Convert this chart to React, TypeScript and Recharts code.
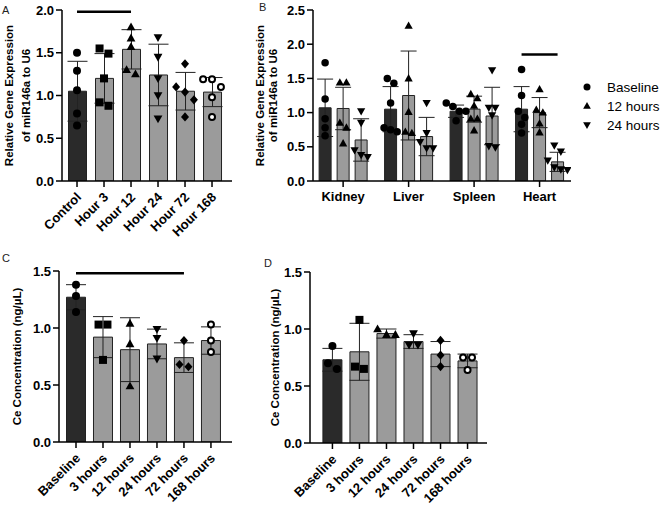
import { ComposedChart, Bar, Scatter, XAxis, YAxis, ErrorBar, ReferenceLine, Cell } from 'recharts';

const FONT = '"Liberation Sans", Arial, sans-serif';
const DARK = '#2a2a2a';
const GRAY = '#9b9b9b';

type Kind = 'circle' | 'square' | 'triangle' | 'triangleDown' | 'diamond' | 'ring';

// Panel A - miR146a over time
const labelsA = ['Control', 'Hour 3', 'Hour 12', 'Hour 24', 'Hour 72', 'Hour 168'];
const meanA = [1.05, 1.2, 1.54, 1.24, 1.05, 1.04];
const sdA = [0.35, 0.29, 0.23, 0.36, 0.22, 0.17];
const pointsA = [
  [1.5, 1.29, 1.06, 0.79, 0.65],
  [1.55, 1.49, 1.2, 0.92, 0.88],
  [1.8, 1.67, 1.57, 1.3, 1.25],
  [1.68, 1.45, 1.2, 1.0, 0.73],
  [1.37, 1.1, 1.04, 0.95, 0.75],
  [1.19, 1.19, 1.1, 0.98, 0.75],
];
const marksA: Kind[] = ['circle', 'square', 'triangle', 'triangleDown', 'diamond', 'ring'];

// Panel B - miR146a by organ
const organsB = ['Kidney', 'Liver', 'Spleen', 'Heart'];
const seriesB = ['Baseline', '12 hours', '24 hours'];
const marksB: Kind[] = ['circle', 'triangle', 'triangleDown'];
const meanB = [
  [1.07, 1.06, 0.6],
  [1.05, 1.25, 0.65],
  [1.02, 1.05, 0.95],
  [1.05, 1.0, 0.28],
];
const sdB = [
  [0.42, 0.31, 0.31],
  [0.33, 0.65, 0.28],
  [0.09, 0.19, 0.42],
  [0.33, 0.22, 0.14],
];
const pointsB = [
  [[1.73, 1.2, 0.91, 0.78, 0.66], [1.44, 1.44, 0.85, 0.78, 0.55], [1.02, 0.85, 0.45, 0.38, 0.35]],
  [[1.5, 1.43, 1.14, 0.78, 0.75, 0.72], [2.27, 1.5, 1.01, 0.72, 0.7], [1.14, 0.7, 0.57, 0.48, 0.48]],
  [[1.14, 1.09, 1.02, 1.02, 0.88], [1.27, 1.21, 1.1, 0.91, 0.91, 0.74], [1.62, 1.07, 1.07, 0.96, 0.51, 0.49]],
  [[1.63, 1.25, 1.02, 0.93, 0.83, 0.7], [1.34, 1.04, 1.0, 0.84, 0.71], [0.52, 0.43, 0.3, 0.2, 0.17, 0.16]],
];

// Panels C and D - Ce concentration
const labelsCD = ['Baseline', '3 hours', '12 hours', '24 hours', '72 hours', '168 hours'];
const meanC = [1.27, 0.92, 0.81, 0.86, 0.74, 0.89];
const sdC = [0.11, 0.18, 0.28, 0.13, 0.13, 0.12];
const pointsC = [
  [1.38, 1.28, 1.14],
  [1.03, 1.03, 0.72],
  [1.04, 0.86, 0.49],
  [0.99, 0.91, 0.73],
  [0.89, 0.68, 0.66],
  [1.03, 0.89, 0.79],
];
const meanD = [0.73, 0.8, 0.96, 0.89, 0.78, 0.72];
const sdD = [0.1, 0.25, 0.04, 0.06, 0.11, 0.06];
const pointsD = [
  [0.85, 0.7, 0.65],
  [1.08, 0.67, 0.65],
  [1.0, 0.95, 0.95],
  [0.96, 0.86, 0.86],
  [0.9, 0.77, 0.67],
  [0.75, 0.75, 0.64],
];

// spread overlapping points sideways, like a scatter dot plot
function spread(vals: number[], tol: number, step: number) {
  const order = vals.map((_, i) => i).sort((a, b) => vals[b] - vals[a]);
  const out = vals.map(() => 0);
  let group: number[] = [];
  const flush = () => {
    group.forEach((g, j) => (out[g] = (j - (group.length - 1) / 2) * step));
    group = [];
  };
  order.forEach((i) => {
    if (group.length && vals[group[group.length - 1]] - vals[i] >= tol) flush();
    group.push(i);
  });
  flush();
  return out;
}

const rowsA = labelsA.map((_, i) => ({ x: i, mean: meanA[i], sd: sdA[i], fill: i === 0 ? DARK : GRAY }));
const dotsA = pointsA.flatMap((vals, i) =>
  spread(vals, 0.094, 0.33).map((o, j) => ({ x: i + o, mean: vals[j], kind: marksA[i] }))
);

const rowsB = organsB.flatMap((_, g) =>
  seriesB.map((_, s) => ({ x: g + (s - 1) * 0.275, mean: meanB[g][s], sd: sdB[g][s], fill: s === 0 ? DARK : GRAY }))
);
const dotsB = pointsB.flatMap((grp, g) =>
  grp.flatMap((vals, s) =>
    spread(vals, 0.1, 0.1).map((o, j) => ({ x: g + (s - 1) * 0.275 + o, mean: vals[j], kind: marksB[s] }))
  )
);

const rowsC = labelsCD.map((_, i) => ({ x: i, mean: meanC[i], sd: sdC[i], fill: i === 0 ? DARK : GRAY }));
const dotsC = pointsC.flatMap((vals, i) =>
  spread(vals, 0.07, 0.33).map((o, j) => ({ x: i + o, mean: vals[j], kind: marksA[i] }))
);
const rowsD = labelsCD.map((_, i) => ({ x: i, mean: meanD[i], sd: sdD[i], fill: i === 0 ? DARK : GRAY }));
const dotsD = pointsD.flatMap((vals, i) =>
  spread(vals, 0.07, 0.33).map((o, j) => ({ x: i + o, mean: vals[j], kind: marksA[i] }))
);

function Marker({ cx, cy, kind, s }: { cx: number; cy: number; kind: Kind; s: number }) {
  const r = s / 2;
  switch (kind) {
    case 'square':
      return <rect x={cx - r} y={cy - r} width={s} height={s} fill="#000" />;
    case 'triangle':
      return <polygon points={`${cx},${cy - r * 1.15} ${cx + r * 1.1},${cy + r * 0.8} ${cx - r * 1.1},${cy + r * 0.8}`} fill="#000" />;
    case 'triangleDown':
      return <polygon points={`${cx},${cy + r * 1.15} ${cx + r * 1.1},${cy - r * 0.8} ${cx - r * 1.1},${cy - r * 0.8}`} fill="#000" />;
    case 'diamond':
      return <polygon points={`${cx},${cy - r * 1.15} ${cx + r},${cy} ${cx},${cy + r * 1.15} ${cx - r},${cy}`} fill="#000" />;
    case 'ring':
      return <circle cx={cx} cy={cy} r={r - 1} fill="#fff" stroke="#000" strokeWidth={2} />;
    default:
      return <circle cx={cx} cy={cy} r={r} fill="#000" />;
  }
}

function XTick(props: any) {
  const { x, y, payload, labels, rotate } = props;
  const text = labels[Math.round(payload.value)];
  const style = { fontFamily: FONT, fontSize: 13, fontWeight: 700, fill: '#000' };
  if (!rotate) {
    return (
      <text x={x} y={y + 12} textAnchor="middle" style={style}>
        {text}
      </text>
    );
  }
  const px = x + 5;
  const py = y + 9;
  return (
    <text x={px} y={py} textAnchor="end" transform={`rotate(-45 ${px} ${py})`} style={style}>
      {text}
    </text>
  );
}

function YTitle({ lines, cx, cy, gap }: { lines: string[]; cx: number; cy: number; gap: number }) {
  return (
    <g>
      {lines.map((t, i) => {
        const x = cx + i * gap;
        return (
          <text
            key={t}
            x={x}
            y={cy}
            transform={`rotate(-90 ${x} ${cy})`}
            textAnchor="middle"
            dominantBaseline="central"
            style={{ fontFamily: FONT, fontSize: 11.5, fontWeight: 700, fill: '#000' }}
          >
            {t}
          </text>
        );
      })}
    </g>
  );
}

interface PanelProps {
  left: number;
  top: number;
  width: number;
  height: number;
  margin: { top: number; right: number; bottom: number; left: number };
  yWidth: number;
  xHeight: number;
  xDomain: [number, number];
  yDomain: [number, number];
  yTicks: number[];
  xTicks: number[];
  tickText: string[];
  rotate: boolean;
  rows: { x: number; mean: number; sd: number; fill: string }[];
  dots: { x: number; mean: number; kind: Kind }[];
  barSize: number;
  dotSize: number;
  capWidth: number;
  sig?: { x1: number; x2: number; y: number };
  title: string[];
  titleX: number;
  titleGap: number;
}

function Panel(p: PanelProps) {
  const cy = p.margin.top + (p.height - p.margin.top - p.margin.bottom - p.xHeight) / 2;
  return (
    <div style={{ position: 'absolute', left: p.left, top: p.top }}>
      <ComposedChart width={p.width} height={p.height} data={p.rows} margin={p.margin}>
        <XAxis
          xAxisId="bars"
          type="number"
          dataKey="x"
          domain={p.xDomain}
          ticks={p.xTicks}
          interval={0}
          allowDataOverflow
          height={p.xHeight}
          stroke="#000"
          strokeWidth={1.5}
          tickSize={6}
          tick={<XTick labels={p.tickText} rotate={p.rotate} />}
        />
        <XAxis xAxisId="dots" type="number" dataKey="x" domain={p.xDomain} allowDataOverflow hide />
        <YAxis
          type="number"
          dataKey="mean"
          domain={p.yDomain}
          ticks={p.yTicks}
          allowDataOverflow
          width={p.yWidth}
          stroke="#000"
          strokeWidth={1.5}
          tickSize={6}
          tickFormatter={(v: number) => v.toFixed(1)}
          tick={{ fill: '#000', fontSize: 13, fontWeight: 700, fontFamily: FONT }}
          label={<YTitle lines={p.title} cx={p.titleX} cy={cy} gap={p.titleGap} />}
        />
        <Bar xAxisId="bars" dataKey="mean" barSize={p.barSize} stroke="#222" strokeWidth={1} isAnimationActive={false}>
          {p.rows.map((r, i) => (
            <Cell key={i} fill={r.fill} />
          ))}
          <ErrorBar dataKey="sd" width={p.capWidth} stroke="#222" strokeWidth={1} />
        </Bar>
        <Scatter
          xAxisId="dots"
          data={p.dots}
          dataKey="mean"
          isAnimationActive={false}
          shape={(s: any) => <Marker cx={s.cx} cy={s.cy} kind={s.payload.kind} s={p.dotSize} />}
        />
        {p.sig && (
          <ReferenceLine
            xAxisId="bars"
            segment={[
              { x: p.sig.x1, y: p.sig.y },
              { x: p.sig.x2, y: p.sig.y },
            ]}
            stroke="#000"
            strokeWidth={2.5}
            ifOverflow="visible"
          />
        )}
      </ComposedChart>
    </div>
  );
}

const letterStyle = { position: 'absolute' as const, fontFamily: FONT, fontSize: 11, color: '#222', lineHeight: '11px' };

export default function App() {
  return (
    <div style={{ position: 'absolute', left: 0, top: 0, width: 664, height: 505, background: '#fff' }}>
      <div style={{ ...letterStyle, left: 2, top: 5 }}>A</div>
      <div style={{ ...letterStyle, left: 259, top: 2 }}>B</div>
      <div style={{ ...letterStyle, left: 2, top: 253 }}>C</div>
      <div style={{ ...letterStyle, left: 264, top: 258 }}>D</div>

      <Panel
        left={0}
        top={0}
        width={240}
        height={250}
        margin={{ top: 10, right: 8, bottom: 0, left: 0 }}
        yWidth={62}
        xHeight={69}
        xDomain={[-0.556, 5.74]}
        yDomain={[0, 2]}
        yTicks={[0, 0.5, 1, 1.5, 2]}
        xTicks={[0, 1, 2, 3, 4, 5]}
        tickText={labelsA}
        rotate
        rows={rowsA}
        dots={dotsA}
        barSize={18}
        dotSize={8}
        capWidth={10}
        sig={{ x1: 0, x2: 2, y: 1.98 }}
        title={['Relative Gene Expression', 'of miR146a to U6']}
        titleX={9}
        titleGap={17}
      />

      <Panel
        left={230}
        top={0}
        width={434}
        height={250}
        margin={{ top: 10, right: 93, bottom: 0, left: 0 }}
        yWidth={83}
        xHeight={69}
        xDomain={[-0.46, 3.48]}
        yDomain={[0, 2.5]}
        yTicks={[0, 0.5, 1, 1.5, 2, 2.5]}
        xTicks={[0, 1, 2, 3]}
        tickText={organsB}
        rotate={false}
        rows={rowsB}
        dots={dotsB}
        barSize={12}
        dotSize={7.5}
        capWidth={8}
        sig={{ x1: 3 - 0.275, x2: 3 + 0.275, y: 1.85 }}
        title={['Relative Gene Expression', 'of miR146a to U6']}
        titleX={30}
        titleGap={13}
      />

      <svg style={{ position: 'absolute', left: 580, top: 78 }} width={84} height={56}>
        {seriesB.map((name, i) => (
          <g key={name}>
            <Marker cx={7} cy={9 + i * 19} kind={marksB[i]} s={7} />
            <text x={27} y={9 + i * 19 + 5} style={{ fontFamily: FONT, fontSize: 13.5, fill: '#000' }}>
              {name}
            </text>
          </g>
        ))}
      </svg>

      <Panel
        left={0}
        top={250}
        width={240}
        height={255}
        margin={{ top: 21, right: 8, bottom: 0, left: 0 }}
        yWidth={59}
        xHeight={63}
        xDomain={[-0.63, 5.78]}
        yDomain={[0, 1.5]}
        yTicks={[0, 0.5, 1, 1.5]}
        xTicks={[0, 1, 2, 3, 4, 5]}
        tickText={labelsCD}
        rotate
        rows={rowsC}
        dots={dotsC}
        barSize={19}
        dotSize={8}
        capWidth={10}
        sig={{ x1: 0, x2: 4, y: 1.48 }}
        title={['Ce Concentration (ng/µL)']}
        titleX={17}
        titleGap={0}
      />

      <Panel
        left={260}
        top={250}
        width={230}
        height={255}
        margin={{ top: 22, right: 3, bottom: 0, left: 0 }}
        yWidth={50}
        xHeight={62}
        xDomain={[-0.83, 5.72]}
        yDomain={[0, 1.5]}
        yTicks={[0, 0.5, 1, 1.5]}
        xTicks={[0, 1, 2, 3, 4, 5]}
        tickText={labelsCD}
        rotate
        rows={rowsD}
        dots={dotsD}
        barSize={19}
        dotSize={8}
        capWidth={10}
        title={['Ce Concentration (ng/µL)']}
        titleX={15}
        titleGap={0}
      />
    </div>
  );
}
